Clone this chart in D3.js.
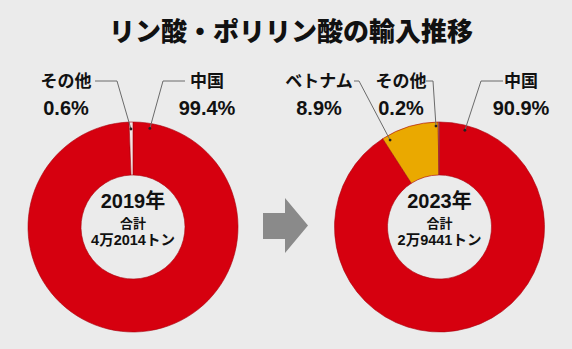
<!DOCTYPE html>
<html lang="ja">
<head>
<meta charset="utf-8">
<script src="https://cdn.jsdelivr.net/npm/d3@7"></script>
<style>
  html, body { margin: 0; padding: 0; background: #ebebeb; }
  svg { display: block; }
  text { font-family: "Liberation Sans", "Noto Sans CJK JP", sans-serif; fill: #111; }
</style>
</head>
<body>
<svg id="chart" width="572" height="349"></svg>
<script>
// Import sources of phosphoric / polyphosphoric acid, share in percent
const title = "リン酸・ポリリン酸の輸入推移";
const years = ["2019年", "2023年"];
const totalLabel = "合計";
const totals = ["4万2014トン", "2万9441トン"];

const categories2019 = ["中国", "その他"];
const shares2019 = [99.4, 0.6];

const categories2023 = ["中国", "ベトナム", "その他"];
const shares2023 = [90.9, 8.9, 0.2];

const sliceColors = {
  2019: { "中国": "#d6000f", "その他": "#f2e4e4" },
  2023: { "中国": "#d6000f", "ベトナム": "#eaa900", "その他": "#8a8a8a" }
};

// Label layout: text centre, leader line path (text end -> elbow) and the
// point on the ring that the leader touches (angle in degrees, radius).
const labelLayout = {
  2019: {
    "その他": { x: 66, elbow: [[95, 81], [117, 81]], angle: -1.2, r: 98 },
    "中国":   { x: 207, elbow: [[185, 81], [163, 81]], angle: 9.7, r: 100 }
  },
  2023: {
    "ベトナム": { x: 319, elbow: [[354, 81], [359, 81]], angle: -29.6, r: 100 },
    "その他":   { x: 401, elbow: [[426, 81], [433, 81]], angle: -2.0, r: 101 },
    "中国":     { x: 521, elbow: [[503, 81], [481, 81]], angle: 14.7, r: 100 }
  }
};

const svg = d3.select("#chart");

svg.append("text")
  .attr("x", 291).attr("y", 41)
  .attr("text-anchor", "middle")
  .style("font-size", "26px").style("font-weight", 900)
  .style("font-family", "'Noto Sans CJK JP', sans-serif")
  .text(title);

const outerR = 105, innerR = 52;
const arc = d3.arc().innerRadius(innerR).outerRadius(outerR);
const pie = d3.pie().sort(null).value(d => d.value);

const donuts = [
  { year: 2019, label: years[0], total: totals[0], cx: 133, cy: 227,
    data: categories2019.map((c, i) => ({ cat: c, value: shares2019[i] })) },
  { year: 2023, label: years[1], total: totals[1], cx: 439.5, cy: 227,
    data: categories2023.map((c, i) => ({ cat: c, value: shares2023[i] })) }
];

donuts.forEach(d => {
  const g = svg.append("g").attr("transform", `translate(${d.cx},${d.cy})`);

  g.selectAll("path.slice")
    .data(pie(d.data))
    .join("path")
    .attr("class", "slice")
    .attr("d", arc)
    .attr("fill", s => sliceColors[d.year][s.data.cat])
    .attr("stroke", "#a8000c")
    .attr("stroke-width", 0.6);

  // centre text
  g.append("text").attr("y", -19).attr("text-anchor", "middle")
    .style("font-size", "20px").style("font-weight", "bold")
    .text(d.label);
  g.append("text").attr("y", 1).attr("text-anchor", "middle")
    .style("font-size", "13px").style("font-weight", "bold")
    .text(totalLabel);
  g.append("text").attr("y", 18).attr("text-anchor", "middle")
    .style("font-size", "14.5px").style("font-weight", "bold")
    .text(d.total);

  // outside labels with leader lines
  d.data.forEach(item => {
    const lay = labelLayout[d.year][item.cat];
    const a = lay.angle * Math.PI / 180;
    const px = d.cx + lay.r * Math.sin(a);
    const py = d.cy - lay.r * Math.cos(a);
    const pts = lay.elbow.concat([[px, py]]);

    svg.append("path")
      .attr("d", d3.line()(pts))
      .attr("fill", "none")
      .attr("stroke", "#6a6a6a")
      .attr("stroke-width", 1);
    svg.append("circle")
      .attr("cx", px).attr("cy", py).attr("r", 1.4)
      .attr("fill", "#222");

    svg.append("text")
      .attr("x", lay.x).attr("y", 87)
      .attr("text-anchor", "middle")
      .style("font-size", "17px").style("font-weight", "bold")
      .text(item.cat);
    svg.append("text")
      .attr("x", lay.x).attr("y", 115)
      .attr("text-anchor", "middle")
      .style("font-size", "20px").style("font-weight", "bold")
      .text(item.value.toFixed(1) + "%");
  });
});

// arrow between the two years
svg.append("path")
  .attr("d", "M263,213 L285,213 L285,198 L308,225.5 L285,253 L285,239 L263,239 Z")
  .attr("fill", "#8a8a8a");
</script>
</body>
</html>
